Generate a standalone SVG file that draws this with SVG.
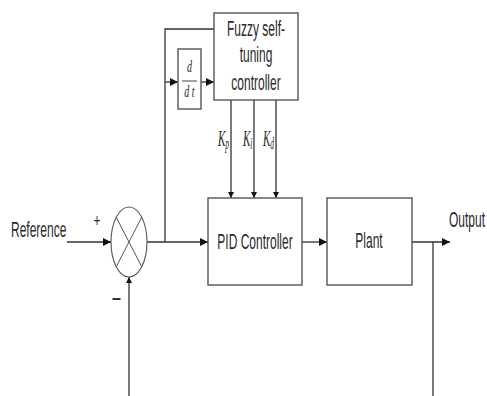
<svg xmlns="http://www.w3.org/2000/svg" width="487" height="396" viewBox="0 0 487 396">
<defs>
<style>
.box{fill:#fff;stroke:#555;stroke-width:1.4}
.ln{fill:none;stroke:#333;stroke-width:1.3}
.t{font-family:"Liberation Sans",Arial,sans-serif;font-size:12px;fill:#2a2a2a}
.m{font-family:"Liberation Serif","Times New Roman",serif;font-style:italic;fill:#2a2a2a}
</style>
<marker id="ah" viewBox="0 0 10 10" refX="10" refY="5" markerWidth="8" markerHeight="9" markerUnits="userSpaceOnUse" orient="auto">
<path d="M0,0 L10,5 L0,10 Z" fill="#111"/>
</marker>
<marker id="av" viewBox="0 0 10 10" refX="10" refY="5" markerWidth="10" markerHeight="6" markerUnits="userSpaceOnUse" orient="auto">
<path d="M0,0 L10,5 L0,10 Z" fill="#111"/>
</marker>
</defs>
<rect width="487" height="396" fill="#fff"/>

<g id="connectors">
<line class="ln" x1="67" y1="242" x2="111" y2="242" marker-end="url(#ah)"/>
<line class="ln" x1="147" y1="242" x2="208" y2="242" marker-end="url(#ah)"/>
<polyline class="ln" points="165,242 165,29 214,29"/>
<line class="ln" x1="165" y1="82" x2="178" y2="82" marker-end="url(#ah)"/>
<line class="ln" x1="201" y1="82" x2="214" y2="82" marker-end="url(#ah)"/>
<line class="ln" x1="231" y1="100" x2="231" y2="198" marker-end="url(#av)"/>
<line class="ln" x1="254" y1="100" x2="254" y2="198" marker-end="url(#av)"/>
<line class="ln" x1="276" y1="100" x2="276" y2="198" marker-end="url(#av)"/>
<line class="ln" x1="302" y1="242" x2="327" y2="242" marker-end="url(#ah)"/>
<line class="ln" x1="412" y1="242" x2="450" y2="242" marker-end="url(#ah)"/>
<line class="ln" x1="433" y1="242" x2="433" y2="396" stroke="#000"/>
<line class="ln" x1="129" y1="396" x2="129" y2="277" stroke="#666" marker-end="url(#av)"/>
</g>

<g id="sum">
<ellipse cx="129" cy="242" rx="18" ry="35" fill="#fff" stroke="#555" stroke-width="1.1"/>
<line x1="116.3" y1="217.3" x2="141.7" y2="266.7" stroke="#555" stroke-width="1"/>
<line x1="141.7" y1="217.3" x2="116.3" y2="266.7" stroke="#555" stroke-width="1"/>
<text class="t" transform="translate(97 227) scale(1 1.6)" text-anchor="middle">+</text>
<line x1="112.5" y1="299" x2="120.5" y2="299" stroke="#333" stroke-width="2"/>
</g>

<g id="reference">
<text class="t" transform="translate(11 237) scale(1 1.8)" font-size="11.5">Reference</text>
</g>

<g id="output">
<text class="t" transform="translate(449 227) scale(1 1.8)">Output</text>
</g>

<g id="ddt">
<rect class="box" x="178" y="49" width="23" height="60"/>
<text class="m" transform="translate(189.5 72) scale(1 1.6)" text-anchor="middle" font-size="10">d</text>
<line x1="182" y1="81" x2="197" y2="81" stroke="#333" stroke-width="0.9"/>
<text class="m" transform="translate(189.5 97) scale(1 1.6)" text-anchor="middle" font-size="10">d t</text>
</g>

<g id="fuzzy">
<rect class="box" x="214" y="13" width="84" height="87"/>
<text class="t" transform="translate(256 36) scale(1 1.8)" text-anchor="middle">Fuzzy self-</text>
<text class="t" transform="translate(256 62) scale(1 1.8)" text-anchor="middle">tuning</text>
<text class="t" transform="translate(256 90) scale(1 1.8)" text-anchor="middle">controller</text>
</g>

<g id="gains">
<text class="m" transform="translate(218 146) scale(1 2.1)" font-size="11">K<tspan font-size="7.5" dy="1.5">p</tspan></text>
<text class="m" transform="translate(243 146) scale(1 2.1)" font-size="11">K<tspan font-size="7.5" dy="1.5">i</tspan></text>
<text class="m" transform="translate(263 146) scale(1 2.1)" font-size="11">K<tspan font-size="7.5" dy="1.5">d</tspan></text>
</g>

<g id="pid">
<rect class="box" x="208" y="198" width="94" height="87"/>
<text class="t" transform="translate(255 249) scale(1 1.8)" text-anchor="middle">PID Controller</text>
</g>

<g id="plant">
<rect class="box" x="327" y="198" width="85" height="87"/>
<text class="t" transform="translate(369 248) scale(1 1.8)" text-anchor="middle">Plant</text>
</g>
</svg>
